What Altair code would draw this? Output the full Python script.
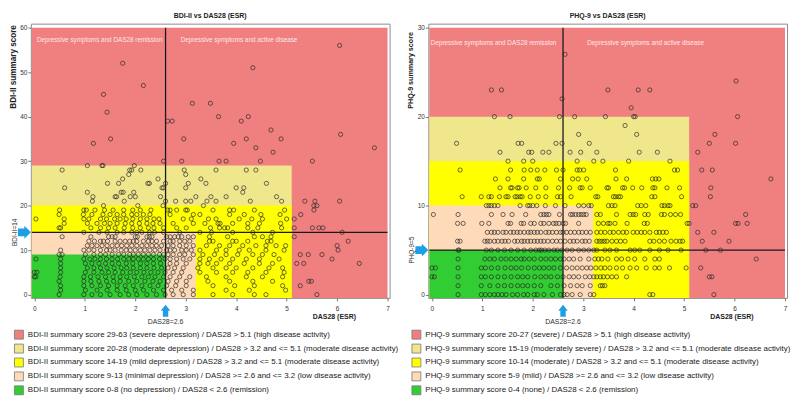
import altair as alt
import pandas as pd

FONT = "Liberation Sans"

# ---------------- BDI-II panel: observed points (score -> DAS28 values) ----------------
bdi_scores = [56, 52, 51, 47, 45, 43, 41, 40, 39, 37, 36, 35, 34, 33, 32, 30, 29, 28, 27, 26,
              25, 24, 23, 22, 21, 20, 19, 18, 17, 16, 15, 14, 13, 12, 11, 10, 9, 8, 7, 6, 5, 4, 3, 2, 1, 0]
bdi_das = [
    [6.05], [1.75], [4.33], [2.16], [1.37], [3.13, 3.49], [1.44], [3.65, 4.24],
    [2.64, 2.73, 4.1], [4.69], [6.07], [1.51, 2.96, 4.2, 4.89], [1.17, 3.95], [4.39, 6.74], [4.73],
    [2.56, 2.92, 3.66, 3.8, 4.48, 5.51],
    [1.05, 1.34, 1.36, 1.98],
    [0.55, 1.89, 1.93, 2.11, 2.97, 3.6, 4.2, 4.39],
    [1.87, 3.0],
    [1.75, 2.45, 3.3],
    [1.45, 1.67, 2.25, 2.28, 2.6, 3.05, 3.4, 4.6],
    [0.6, 2.53, 2.56, 3.0, 4.0, 4.15],
    [1.05, 1.72, 1.76, 1.97, 4.13],
    [1.16, 1.6, 1.63, 1.9, 2.0, 2.5, 3.2, 3.5, 3.8, 4.8],
    [1.15, 1.78, 2.6, 2.8, 3.0, 3.1, 3.42, 3.6, 4.28, 4.9, 5.36, 5.56, 6.05],
    [1.37, 2.05, 2.55, 3.35, 5.54, 5.6],
    [0.5, 0.98, 1.03, 1.2, 1.39, 1.56, 1.77, 1.95, 2.1, 2.31, 2.64, 2.69, 2.82, 3.0, 3.03, 3.54, 3.87, 3.95, 4.36, 4.96, 5.54],
    [0.49, 0.97, 1.14, 1.36, 1.5, 1.64, 1.77, 1.93, 2.03, 2.16, 2.29, 2.69, 3.15, 3.28, 3.87, 4.16, 4.49, 4.87, 5.28],
    [0.03, 0.59, 0.98, 1.08, 1.31, 1.43, 1.59, 1.7, 1.82, 1.95, 2.1, 2.23, 2.37, 2.47, 2.95, 3.11, 3.45, 3.6, 4.06, 4.31, 4.52, 5.0, 5.15],
    [0.59, 1.05, 1.24, 1.39, 1.5, 1.64, 1.8, 1.93, 2.08, 2.23, 2.35, 2.49, 2.75, 3.15, 3.38, 3.64, 3.68, 3.93, 4.23, 4.46, 4.88],
    [0.49, 0.52, 1.12, 1.31, 1.47, 1.6, 1.78, 1.95, 2.1, 2.26, 2.37, 2.56, 2.82, 3.01, 3.49, 3.67, 3.77, 3.83, 4.23, 4.43, 4.9, 5.15, 5.51, 5.64, 5.72],
    [0.98, 1.28, 1.44, 1.64, 1.77, 1.93, 2.03, 2.13, 2.28, 2.38, 2.56, 2.88, 3.28, 3.51, 3.93, 4.33, 4.72, 6.1],
    [0.55, 1.12, 1.47, 1.54, 1.6, 2.0, 2.04, 2.23, 2.28, 2.33, 2.62, 2.69, 2.78, 2.85, 2.92, 3.05, 3.15, 3.47, 3.83, 4.36, 4.52, 4.69, 5.15],
    [1.08, 1.19, 1.31, 1.37, 1.45, 1.6, 1.7, 1.8, 1.89, 1.96, 2.03, 2.16, 2.26, 2.33, 2.42, 2.56, 2.69, 2.75, 2.88, 2.98, 3.08, 3.47, 3.54, 3.93, 4.0, 4.23, 4.62, 4.69, 6.22],
    [1.05, 1.14, 1.24, 1.34, 1.44, 1.54, 1.64, 1.73, 1.83, 1.93, 2.03, 2.13, 2.23, 2.33, 2.42, 2.52, 2.65, 2.75, 2.88, 3.01, 3.15, 3.41, 3.67, 3.87, 4.13, 4.39, 4.59, 4.79, 4.98, 6.0],
    [0.52, 0.98, 1.08, 1.18, 1.31, 1.43, 1.5, 1.6, 1.72, 1.82, 1.9, 2.0, 2.1, 2.19, 2.29, 2.39, 2.49, 2.62, 2.69, 2.78, 2.92, 3.01, 3.11, 3.28, 3.61, 3.8, 4.06, 4.26, 4.59, 4.95, 6.02],
    [0.49, 0.55, 1.01, 1.18, 1.31, 1.41, 1.54, 1.67, 1.77, 1.89, 1.96, 2.06, 2.16, 2.26, 2.36, 2.48, 2.56, 2.65, 2.75, 2.88, 2.98, 3.15, 3.34, 3.57, 3.8, 4.03, 4.33, 4.52, 4.75, 5.27, 5.43, 5.7],
    [0.03, 0.52, 0.98, 1.1, 1.2, 1.31, 1.43, 1.54, 1.65, 1.77, 1.87, 1.96, 2.06, 2.16, 2.26, 2.36, 2.48, 2.59, 2.69, 2.82, 2.95, 3.08, 3.28, 3.47, 3.7, 3.93, 4.2, 4.46, 4.85, 5.9],
    [0.52, 1.01, 1.14, 1.28, 1.41, 1.54, 1.67, 1.82, 1.95, 2.1, 2.23, 2.36, 2.5, 2.69, 2.82, 3.01, 3.28, 3.44, 3.61, 3.87, 4.16, 4.46, 4.72, 5.2, 5.34, 6.44],
    [0.52, 1.05, 1.18, 1.31, 1.44, 1.58, 1.72, 1.83, 1.96, 2.1, 2.23, 2.37, 2.52, 2.65, 2.78, 2.95, 3.24, 3.54, 3.8, 4.0, 4.33, 4.65, 4.92],
    [0.0, 0.05, 0.52, 1.01, 1.18, 1.34, 1.47, 1.6, 1.75, 1.9, 2.03, 2.17, 2.31, 2.45, 2.59, 2.75, 2.92, 3.28, 3.61, 3.93, 4.23, 4.59, 4.95],
    [0.0, 0.03, 0.51, 0.98, 1.11, 1.26, 1.41, 1.56, 1.7, 1.83, 1.98, 2.13, 2.26, 2.39, 2.56, 2.69, 2.88, 3.08, 3.41, 3.8, 4.2, 4.52, 4.92],
    [0.49, 0.98, 1.12, 1.28, 1.43, 1.57, 1.7, 1.87, 2.03, 2.19, 2.35, 2.49, 2.65, 2.82, 3.01, 3.44, 3.87, 4.33, 4.72, 5.44, 5.49],
    [0.52, 0.98, 1.14, 1.31, 1.47, 1.64, 1.8, 1.96, 2.13, 2.29, 2.45, 2.62, 2.8, 3.01, 3.54, 3.97, 4.36, 4.92, 5.27],
    [0.52, 1.01, 1.24, 1.44, 1.64, 1.82, 2.0, 2.16, 2.36, 2.56, 2.72, 2.92, 3.15, 3.8, 4.26, 4.98],
    [0.49, 0.98, 1.14, 1.31, 1.5, 1.7, 1.87, 2.03, 2.23, 2.42, 2.59, 2.75, 2.95, 3.15, 3.54, 3.93, 4.36, 4.59, 5.6],
]

# ---------------- PHQ-9 panel: observed points ----------------
phq_scores = [27, 24, 23, 22, 21, 20, 19, 18, 17, 16, 15, 14, 13, 12, 11, 10, 9, 8, 7, 6, 5, 4, 3, 2, 1, 0]
phq_das = [
    [2.64], [6.03], [1.18, 1.38, 3.49, 4.09, 4.32], [2.58], [3.95],
    [1.24, 1.55, 2.53, 2.83, 3.44, 4.0, 4.03, 6.06],
    [3.83],
    [2.91, 4.06, 5.61],
    [0.49, 1.71, 1.78, 2.46, 2.58, 3.12, 5.5, 6.02],
    [1.35, 1.92, 1.98, 2.2, 2.32, 2.74, 2.95, 3.27, 4.11, 4.47, 5.27],
    [1.51, 1.82, 2.0, 2.88, 3.21, 3.39, 3.9, 4.72],
    [0.56, 1.56, 1.83, 1.96, 2.09, 2.24, 2.47, 2.6, 2.88, 2.93, 3.01, 3.64, 4.81, 4.87, 5.35, 5.56],
    [1.26, 1.51, 1.82, 2.09, 2.13, 2.55, 2.79, 2.9, 3.07, 3.65, 3.86, 4.37, 4.44, 4.5, 6.72],
    [1.35, 1.56, 1.59, 1.7, 1.73, 1.87, 2.06, 2.26, 2.51, 2.73, 2.94, 2.98, 3.14, 3.47, 3.5, 3.78, 3.82, 3.98, 4.16, 4.38, 4.42, 4.66, 4.91, 5.53],
    [0.6, 0.98, 1.13, 1.18, 1.34, 1.47, 1.51, 1.65, 1.69, 1.75, 1.79, 1.95, 2.11, 2.26, 2.49, 2.55, 2.76, 3.25, 3.29, 3.6, 3.64, 3.7, 3.74, 4.36, 4.42, 4.95, 5.52],
    [1.08, 1.13, 1.18, 1.24, 1.31, 1.75, 1.9, 1.94, 2.0, 2.08, 2.25, 2.45, 2.64, 2.91, 3.01, 3.11, 3.16, 3.5, 3.57, 3.63, 4.08, 4.15, 4.24, 4.56, 4.61, 4.68, 4.72, 5.17, 5.23],
    [0.03, 0.52, 1.18, 1.41, 1.59, 1.86, 2.16, 2.22, 2.27, 2.32, 2.53, 2.75, 2.79, 2.85, 2.91, 2.96, 3.01, 3.06, 3.27, 3.34, 3.66, 3.93, 3.99, 4.04, 4.22, 4.29, 4.55, 4.61, 4.73, 4.83, 4.93, 6.22],
    [0.51, 0.62, 0.99, 1.13, 1.51, 1.56, 1.77, 1.82, 1.96, 2.03, 2.16, 2.22, 2.32, 2.41, 2.46, 2.52, 2.6, 2.65, 2.91, 3.3, 3.4, 3.49, 3.53, 3.63, 3.87, 4.21, 4.27, 5.06, 5.1, 6.02, 6.07, 6.25],
    [1.1, 1.18, 1.24, 1.31, 1.41, 1.47, 1.56, 1.62, 1.69, 1.75, 1.83, 1.91, 1.96, 2.03, 2.09, 2.16, 2.26, 2.32, 2.39, 2.47, 2.55, 2.6, 2.67, 2.75, 2.83, 2.91, 2.98, 3.06, 3.14, 3.27, 3.35, 3.43, 3.53, 3.6, 3.7, 3.79, 3.86, 3.99, 4.07, 4.15, 4.22, 4.32, 4.45, 4.51, 4.58, 4.65, 5.27, 5.59],
    [0.51, 0.56, 1.05, 1.1, 1.15, 1.24, 1.31, 1.39, 1.45, 1.52, 1.64, 1.7, 1.78, 1.83, 1.9, 1.96, 2.03, 2.09, 2.16, 2.22, 2.3, 2.39, 2.47, 2.55, 2.64, 2.74, 2.81, 2.88, 2.98, 3.04, 3.12, 3.27, 3.32, 3.37, 3.42, 3.47, 3.57, 3.66, 3.74, 3.83, 4.32, 4.4, 4.51, 4.61, 4.74, 4.84, 4.92, 4.97, 5.36, 5.89],
    [0.52, 0.54, 1.08, 1.18, 1.31, 1.44, 1.57, 1.7, 1.83, 1.96, 2.06, 2.13, 2.17, 2.24, 2.32, 2.42, 2.49, 2.58, 2.68, 2.78, 2.91, 3.01, 3.11, 3.21, 3.27, 3.43, 3.53, 3.66, 3.93, 4.02, 4.12, 4.32, 4.51, 4.68, 4.94, 5.43, 5.72],
    [0.52, 1.05, 1.15, 1.24, 1.37, 1.47, 1.57, 1.67, 1.77, 1.83, 1.93, 2.03, 2.16, 2.26, 2.36, 2.45, 2.55, 2.62, 2.72, 2.81, 2.94, 3.11, 3.23, 3.3, 3.37, 3.49, 3.66, 3.76, 3.89, 4.02, 4.22, 4.42, 4.51, 6.43],
    [0.0, 0.07, 0.52, 0.98, 1.06, 1.18, 1.31, 1.45, 1.57, 1.67, 1.78, 1.91, 2.03, 2.13, 2.22, 2.32, 2.42, 2.55, 2.67, 2.78, 2.88, 2.98, 3.07, 3.15, 3.25, 3.35, 3.43, 3.53, 3.66, 3.78, 3.93, 4.06, 4.25, 4.42, 4.51, 4.71, 5.04, 5.33],
    [0.0, 0.05, 0.52, 0.98, 1.06, 1.18, 1.31, 1.44, 1.57, 1.7, 1.8, 1.9, 2.04, 2.16, 2.26, 2.36, 2.49, 2.6, 2.72, 2.81, 2.91, 3.04, 3.13, 3.21, 3.27, 3.34, 3.4, 3.48, 3.57, 3.66, 3.86, 5.5, 5.55],
    [0.52, 0.98, 1.15, 1.31, 1.44, 1.57, 1.7, 1.8, 1.9, 2.03, 2.16, 2.36, 2.49, 2.62, 2.75, 2.88, 2.98, 3.14, 3.34, 3.38, 3.43],
    [0.52, 0.98, 1.06, 1.15, 1.24, 1.31, 1.39, 1.47, 1.6, 1.7, 1.82, 1.9, 2.03, 2.09, 2.22, 2.39, 2.55, 2.62, 2.68, 2.78, 2.94, 3.14, 3.21, 4.32, 4.38, 5.59],
]

# ---------------- category bands ----------------
band_colors = ["#F08080", "#F0E68C", "#FFFF00", "#FFDAB9", "#32CD32"]
band_right = [7.0, 5.1, 5.1, 3.2, 2.6]
bdi_cats = [
    "BDI-II summary score 29-63 (severe depression) / DAS28 > 5.1 (high disease activity)",
    "BDI-II summary score 20-28 (moderate depression) / DAS28 > 3.2 and <= 5.1 (moderate disease activity)",
    "BDI-II summary score 14-19 (mild depression) / DAS28 > 3.2 and <= 5.1 (moderate disease activity)",
    "BDI-II summary score 9-13 (minimal depression) / DAS28 >= 2.6 and <= 3.2 (low disease activity)",
    "BDI-II summary score 0-8 (no depression) / DAS28 < 2.6 (remission)",
]
bdi_band_top = [60, 29, 20, 14, 9]
phq_cats = [
    "PHQ-9 summary score 20-27 (severe) / DAS28 > 5.1 (high disease activity)",
    "PHQ-9 summary score 15-19 (moderately severe) / DAS28 > 3.2 and <= 5.1 (moderate disease activity)",
    "PHQ-9 summary score 10-14 (moderate) / DAS28 > 3.2 and <= 5.1 (moderate disease activity)",
    "PHQ-9 summary score 5-9 (mild) / DAS28 >= 2.6 and <= 3.2 (low disease activity)",
    "PHQ-9 summary score 0-4 (none) / DAS28 < 2.6 (remission)",
]
phq_band_top = [30, 20, 15, 10, 5]

region_labels = ["Depressive symptoms and DAS28 remission", "Depressive symptoms and active disease"]

BLUE = "#1E9FE3"
ARROW_RIGHT = "M-1,-0.6L0,-0.6L0,-1L1,0L0,1L0,0.6L-1,0.6Z"
ARROW_UP = "M-0.45,1L-0.45,0L-0.8,0L0,-1L0.8,0L0.45,0L0.45,1Z"

W, H = 361, 276
XDOM = [-0.07, 7.04]


def make_panel(title, ytitle, ytitle_size, ytitle_y, ydom, yvals, cats, tops, scores, das_lists,
               thr, thr_label, label_y, label_x, field):
    xs = alt.Scale(domain=XDOM, nice=False, zero=False)
    ys = alt.Scale(domain=ydom, nice=False, zero=False)
    xaxis = alt.Axis(
        values=list(range(8)), title="DAS28 (ESR)", domain=False, grid=False,
        tickSize=3, tickColor="#777", labelFontSize=6.5, labelColor="#333", labelPadding=5,
        labelFont=FONT, titleFont=FONT, titleFontSize=7, titleFontWeight="bold", titleColor="#222",
        titleX=305, titleY=19, titleAlign="center", titleBaseline="middle")
    yaxis = alt.Axis(
        values=yvals, title=ytitle, domain=False, grid=False,
        tickSize=3, tickColor="#777", labelFontSize=6.5, labelColor="#333", labelPadding=1,
        labelFont=FONT, titleFont=FONT, titleFontSize=ytitle_size, titleFontWeight="bold",
        titleColor="#222", titleX=-21.5, titleY=ytitle_y, titleAngle=270,
        titleAlign="right", titleBaseline="top")

    def X(f):
        return alt.X(f, scale=xs, axis=xaxis)

    def Y(f):
        return alt.Y(f, scale=ys, axis=yaxis)

    reg = pd.DataFrame({field: cats, "x1": [-0.05] * 5, "x2": band_right,
                        "y1": [ydom[0]] * 5, "y2": tops})
    rects = alt.Chart(reg).mark_rect().encode(
        x=X("x1:Q"), x2="x2:Q", y=Y("y1:Q"), y2="y2:Q",
        color=alt.Color(f"{field}:N", sort=cats,
                        scale=alt.Scale(domain=cats, range=band_colors),
                        legend=alt.Legend(orient="none", legendX=-17, legendY=308, title=None,
                                          direction="vertical", symbolType="square", symbolSize=81,
                                          symbolStrokeColor="#777", symbolStrokeWidth=0.8,
                                          labelFont=FONT, labelFontSize=8, labelColor="#222",
                                          labelLimit=800, labelOffset=4, rowPadding=0, padding=0)),
    )

    vline = alt.Chart(pd.DataFrame({"x1": [2.6], "y1": [ydom[0]], "yb": [tops[0]]})).mark_rule(
        color="#1a1a1a", strokeWidth=1.3).encode(x=X("x1:Q"), y=Y("y1:Q"), y2="yb:Q")
    hline = alt.Chart(pd.DataFrame({"y1": [thr], "x1": [-0.05], "xb": [7.0]})).mark_rule(
        color="#1a1a1a", strokeWidth=1.3).encode(y=Y("y1:Q"), x=X("x1:Q"), x2="xb:Q")

    lab = pd.DataFrame({"t": region_labels, "x1": label_x, "y1": [label_y, label_y]})
    labels = alt.Chart(lab).mark_text(align="left", baseline="middle", font=FONT, fontSize=6.4,
                                      color="#FDE7E7").encode(x=X("x1:Q"), y=Y("y1:Q"), text="t:N")

    rows = [{"x1": d, "y1": s} for s, lst in zip(scores, das_lists) for d in lst]
    pts = alt.Chart(pd.DataFrame(rows)).mark_point(
        shape="circle", filled=False, color="#262626", strokeWidth=0.7, size=18, opacity=0.95).encode(
        x=X("x1:Q"), y=Y("y1:Q"))

    thr_df = pd.DataFrame({"y1": [thr], "t": [thr_label]})
    arrow_l = alt.Chart(thr_df).mark_point(shape=ARROW_RIGHT, filled=True, fill=BLUE, strokeWidth=0,
                                           size=169, opacity=1).encode(x=alt.value(-6.5), y=Y("y1:Q"))
    txt_l = alt.Chart(thr_df).mark_text(angle=270, align="center", baseline="middle", font=FONT,
                                        fontSize=6.5, color="#333").encode(
        x=alt.value(-16), y=Y("y1:Q"), text="t:N")

    das_df = pd.DataFrame({"x1": [2.6], "t": ["DAS28=2.6"]})
    arrow_b = alt.Chart(das_df).mark_point(shape=ARROW_UP, filled=True, fill=BLUE, strokeWidth=0,
                                           size=144, opacity=1).encode(x=X("x1:Q"), y=alt.value(289))
    txt_b = alt.Chart(das_df).mark_text(align="center", baseline="middle", font=FONT, fontSize=7,
                                        color="#333").encode(x=X("x1:Q"), y=alt.value(300.5), text="t:N")

    return alt.layer(rects, vline, hline, labels, pts, arrow_l, txt_l, arrow_b, txt_b).properties(
        width=W, height=H,
        title=alt.TitleParams(text=title, font=FONT, fontSize=7, fontWeight="bold", color="#222",
                              anchor="middle", offset=5))


left = make_panel("BDI-II vs DAS28 (ESR)", "BDI-II summary score", 8.2, 1, [-0.74, 60.9],
                  [0, 10, 20, 30, 40, 50, 60], bdi_cats, bdi_band_top, bdi_scores, bdi_das,
                  14, "BDI-II=14", 57.3, [0.05, 2.9], "cat_bdi")
right = make_panel("PHQ-9 vs DAS28 (ESR)", "PHQ-9 summary score", 7.2, 8, [-0.37, 30.45],
                   [0, 10, 20, 30], phq_cats, phq_band_top, phq_scores, phq_das,
                   5, "PHQ-9=5", 28.3, [-0.02, 3.08], "cat_phq")

chart = alt.HConcatChart(hconcat=[left, right], spacing=39, bounds="flush").resolve_scale(
    x="independent", y="independent", color="independent").resolve_legend(
    color="independent").configure_view(stroke="#8c8c8c", strokeWidth=1).properties(
    padding={"left": 0, "top": 1.5, "right": 0, "bottom": 0}, background="white")

chart.save("out.html", embed_options={"renderer": "svg", "actions": False})
